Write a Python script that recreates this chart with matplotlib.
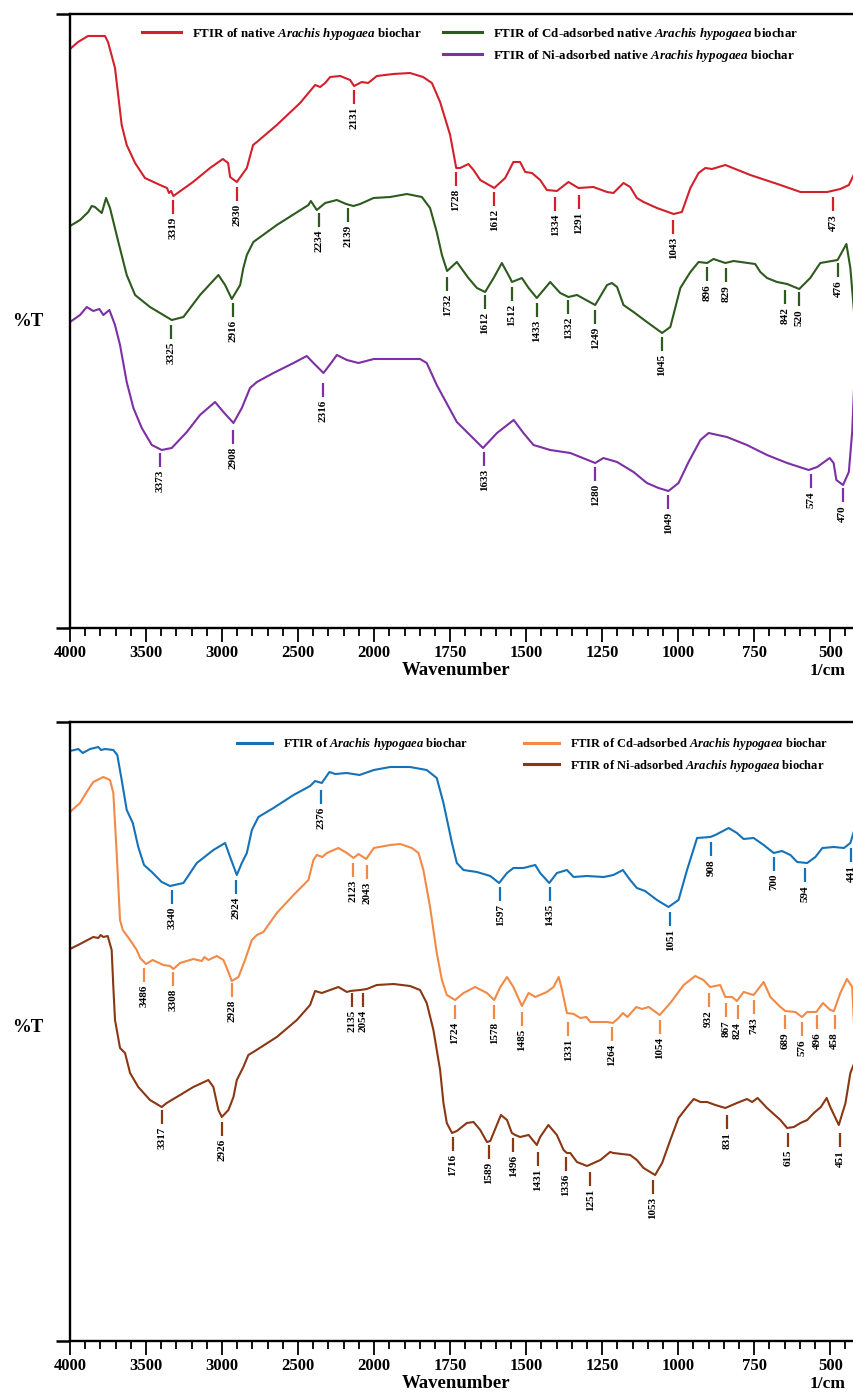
import numpy as np
import matplotlib
matplotlib.use("Agg")
import matplotlib.pyplot as plt
from matplotlib.lines import Line2D
from matplotlib.ticker import FixedLocator

plt.rcParams['font.family'] = ['Liberation Serif', 'DejaVu Serif']
plt.rcParams['mathtext.fontset'] = 'custom'
plt.rcParams['mathtext.rm'] = 'Liberation Serif:bold'
plt.rcParams['mathtext.it'] = 'Liberation Serif:italic:bold'
plt.rcParams['mathtext.bf'] = 'Liberation Serif:bold'

# ---------------- data (wavenumber cm-1, %T in arbitrary units) ----------------
NATIVE = [(4000, 579), (3947, 586), (3882, 592), (3770, 592), (3750, 586), (3704, 560), (3660, 503),
          (3627, 483), (3572, 465), (3507, 450), (3408, 443), (3362, 440), (3349, 435), (3335, 437),
          (3320, 432), (3191, 446), (3079, 460), (2995, 469), (2960, 465), (2947, 451), (2903, 446),
          (2837, 460), (2796, 483), (2771, 486), (2640, 503), (2487, 525), (2388, 543), (2355, 541),
          (2322, 545), (2289, 551), (2223, 552), (2158, 548), (2132, 542), (2081, 546), (2039, 545),
          (1991, 552), (1937, 554), (1882, 555), (1839, 551), (1810, 545), (1783, 526), (1750, 493),
          (1730, 460), (1717, 460), (1690, 464), (1673, 458), (1651, 448), (1605, 440), (1569, 450),
          (1542, 466), (1520, 466), (1503, 456), (1481, 455), (1454, 448), (1432, 438), (1399, 437),
          (1361, 446), (1328, 440), (1279, 441), (1234, 436), (1213, 435), (1180, 445), (1158, 441),
          (1136, 430), (1114, 426), (1070, 420), (1015, 414), (988, 416), (960, 440), (933, 455),
          (911, 460), (889, 459), (845, 463), (763, 453), (664, 443), (598, 436), (510, 436),
          (467, 439), (439, 443), (423, 453)]
CD_NATIVE = [(4000, 402), (3934, 408), (3880, 416), (3857, 422), (3836, 421), (3791, 415), (3763, 430),
             (3737, 420), (3682, 386), (3627, 353), (3572, 333), (3474, 321), (3331, 308), (3254, 311),
             (3145, 333), (3024, 353), (2980, 343), (2936, 329), (2881, 343), (2860, 360), (2837, 373),
             (2794, 386), (2640, 403), (2432, 423), (2416, 427), (2377, 418), (2322, 425), (2245, 428),
             (2184, 424), (2136, 422), (2092, 424), (2004, 430), (1947, 431), (1892, 434), (1843, 431),
             (1816, 420), (1794, 396), (1777, 373), (1760, 357), (1728, 366), (1690, 350), (1662, 340),
             (1635, 336), (1607, 350), (1580, 365), (1553, 350), (1547, 346), (1514, 350), (1492, 340),
             (1465, 330), (1421, 346), (1388, 335), (1361, 331), (1333, 333), (1273, 323), (1234, 343),
             (1218, 345), (1201, 341), (1180, 323), (1147, 316), (1103, 306), (1053, 295), (1026, 301),
             (993, 340), (960, 356), (933, 366), (905, 365), (884, 369), (845, 365), (818, 367),
             (747, 364), (730, 356), (708, 350), (675, 346), (642, 344), (602, 339), (566, 350),
             (533, 365), (476, 368), (447, 384), (434, 360), (421, 313)]
NI_NATIVE = [(4000, 306), (3934, 313), (3890, 321), (3847, 317), (3807, 319), (3781, 313), (3741, 318),
             (3704, 303), (3671, 283), (3627, 246), (3583, 220), (3528, 200), (3462, 183), (3397, 178),
             (3331, 180), (3232, 196), (3145, 213), (3046, 226), (2991, 216), (2925, 205), (2870, 220),
             (2816, 240), (2771, 246), (2662, 255), (2530, 265), (2443, 272), (2399, 265), (2333, 255),
             (2278, 266), (2245, 273), (2179, 268), (2103, 265), (2002, 269), (1849, 269), (1827, 265),
             (1794, 243), (1728, 206), (1695, 196), (1642, 180), (1596, 195), (1541, 208), (1509, 195),
             (1476, 183), (1421, 178), (1355, 175), (1322, 171), (1273, 165), (1246, 170), (1201, 166),
             (1147, 156), (1103, 145), (1065, 140), (1032, 137), (999, 145), (966, 166), (927, 188),
             (900, 195), (840, 191), (774, 183), (708, 173), (642, 165), (571, 158), (543, 161),
             (502, 170), (489, 165), (480, 148), (458, 143), (439, 156), (428, 196), (421, 246)]

RAW = [(4000, 590), (3945, 592), (3916, 588), (3868, 592), (3814, 594), (3796, 591), (3770, 592),
       (3715, 591), (3689, 586), (3660, 561), (3627, 531), (3587, 518), (3551, 494), (3513, 476),
       (3462, 469), (3397, 459), (3342, 455), (3254, 458), (3166, 478), (3057, 491), (2980, 498),
       (2947, 484), (2903, 466), (2870, 478), (2837, 488), (2804, 511), (2761, 524), (2662, 533),
       (2530, 546), (2421, 555), (2388, 560), (2344, 558), (2294, 569), (2256, 567), (2179, 568),
       (2096, 566), (2002, 571), (1947, 574), (1882, 574), (1827, 571), (1794, 563), (1772, 538),
       (1744, 498), (1728, 478), (1706, 471), (1662, 469), (1618, 465), (1589, 458), (1563, 468),
       (1542, 473), (1509, 473), (1470, 476), (1454, 468), (1424, 458), (1399, 468), (1366, 471),
       (1344, 464), (1300, 465), (1245, 464), (1213, 466), (1182, 471), (1158, 461), (1136, 453),
       (1109, 450), (1070, 441), (1032, 434), (999, 441), (971, 471), (938, 503), (895, 504),
       (878, 506), (834, 513), (807, 508), (785, 502), (752, 503), (719, 496), (686, 488),
       (659, 490), (631, 486), (609, 479), (576, 478), (549, 484), (526, 493), (488, 494),
       (455, 493), (434, 498), (421, 511)]
CD = [(4000, 529), (3934, 538), (3890, 549), (3847, 559), (3781, 564), (3737, 561), (3715, 548),
      (3693, 488), (3671, 421), (3653, 411), (3605, 401), (3561, 391), (3539, 383), (3500, 377),
      (3456, 381), (3386, 376), (3342, 375), (3320, 372), (3276, 378), (3189, 382), (3133, 380),
      (3116, 384), (3090, 381), (3035, 385), (2991, 381), (2969, 373), (2936, 360), (2892, 364),
      (2849, 381), (2804, 401), (2771, 406), (2728, 409), (2640, 428), (2530, 446), (2432, 461),
      (2399, 481), (2377, 486), (2340, 484), (2311, 488), (2235, 493), (2179, 488), (2135, 483),
      (2103, 487), (2052, 482), (2002, 493), (1947, 496), (1914, 497), (1876, 493), (1854, 488),
      (1838, 471), (1816, 434), (1794, 388), (1777, 361), (1761, 346), (1734, 341), (1706, 348),
      (1668, 354), (1629, 348), (1605, 341), (1585, 354), (1563, 364), (1542, 354), (1514, 335),
      (1492, 348), (1470, 344), (1432, 349), (1410, 354), (1393, 364), (1382, 351), (1366, 328),
      (1344, 327), (1322, 323), (1302, 324), (1289, 319), (1234, 319), (1215, 318), (1196, 323),
      (1182, 328), (1167, 324), (1138, 334), (1119, 332), (1097, 334), (1061, 326), (1026, 338),
      (982, 356), (944, 365), (917, 361), (895, 354), (862, 356), (845, 344), (823, 344),
      (807, 340), (785, 349), (752, 346), (719, 359), (697, 344), (664, 334), (648, 330),
      (615, 329), (593, 324), (576, 329), (546, 329), (524, 338), (500, 331), (488, 330),
      (467, 348), (445, 362), (428, 354), (421, 311)]
NI = [(4000, 392), (3934, 397), (3847, 404), (3814, 403), (3798, 406), (3781, 404), (3752, 405),
      (3726, 391), (3715, 354), (3704, 321), (3671, 293), (3638, 288), (3605, 268), (3551, 254),
      (3474, 241), (3397, 234), (3364, 238), (3276, 246), (3189, 254), (3090, 261), (3057, 254),
      (3024, 231), (3002, 224), (2958, 231), (2925, 244), (2903, 261), (2860, 274), (2827, 286),
      (2794, 289), (2640, 304), (2508, 321), (2421, 336), (2388, 350), (2344, 348), (2235, 354),
      (2179, 349), (2158, 350), (2092, 351), (2048, 352), (1991, 356), (1936, 357), (1882, 355),
      (1849, 351), (1827, 338), (1805, 311), (1783, 271), (1772, 238), (1761, 218), (1744, 208),
      (1728, 210), (1695, 218), (1673, 219), (1651, 211), (1629, 199), (1618, 200), (1583, 226),
      (1563, 221), (1547, 208), (1536, 206), (1520, 204), (1492, 206), (1465, 196), (1454, 204),
      (1427, 216), (1399, 206), (1377, 191), (1366, 188), (1355, 188), (1333, 179), (1300, 175),
      (1256, 181), (1224, 189), (1213, 188), (1158, 186), (1136, 181), (1114, 173), (1076, 166),
      (1053, 178), (1026, 201), (999, 223), (971, 234), (949, 242), (927, 239), (905, 239),
      (878, 236), (845, 233), (807, 238), (774, 242), (757, 239), (739, 243), (708, 233),
      (664, 221), (642, 213), (620, 214), (598, 218), (576, 221), (554, 228), (531, 234),
      (512, 243), (500, 234), (472, 216), (450, 238), (434, 268), (421, 278)]

# peak labels: (label, wavenumber position of marker, marker top value)
NATIVE_PEAKS = [("3319", 3320, 428), ("2930", 2903, 441), ("2131", 2131, 538), ("1728", 1731, 456),
                ("1612", 1605, 436), ("1334", 1404, 431), ("1291", 1326, 433), ("1043", 1016, 408),
                ("473", 491, 431)]
CD_NATIVE_PEAKS = [("3325", 3335, 303), ("2916", 2929, 325), ("2234", 2360, 415), ("2139", 2175, 420),
                   ("1732", 1759, 351), ("1612", 1635, 333), ("1512", 1547, 341), ("1433", 1465, 325),
                   ("1332", 1361, 328), ("1249", 1273, 318), ("1045", 1053, 291), ("896", 905, 361),
                   ("829", 843, 360), ("842", 650, 338), ("520", 602, 336), ("476", 474, 365)]
NI_NATIVE_PEAKS = [("3373", 3408, 175), ("2908", 2925, 198), ("2316", 2337, 245), ("1633", 1638, 176),
                   ("1280", 1273, 161), ("1049", 1032, 133), ("574", 563, 154), ("470", 459, 140)]
RAW_PEAKS = [("3340", 3331, 451), ("2924", 2908, 461), ("2376", 2348, 551), ("1597", 1585, 454),
             ("1435", 1423, 454), ("1051", 1026, 429), ("908", 891, 499), ("700", 684, 484),
             ("594", 584, 473), ("441", 432, 493)]
CD_PEAKS = [("3486", 3511, 373), ("3308", 3320, 369), ("2928", 2932, 358), ("2123", 2142, 478),
            ("2043", 2048, 476), ("1724", 1734, 336), ("1578", 1605, 336), ("1485", 1514, 329),
            ("1331", 1361, 319), ("1264", 1218, 314), ("1054", 1061, 321), ("932", 900, 348),
            ("867", 842, 338), ("824", 805, 336), ("743", 750, 341), ("689", 650, 326),
            ("576", 593, 319), ("496", 544, 326), ("458", 486, 326)]
NI_PEAKS = [("3317", 3393, 231), ("2926", 3002, 219), ("2135", 2146, 348), ("2054", 2070, 348),
            ("1716", 1742, 204), ("1589", 1622, 196), ("1496", 1542, 203), ("1431", 1461, 189),
            ("1336", 1369, 184), ("1251", 1289, 169), ("1053", 1083, 161), ("831", 840, 226),
            ("615", 640, 208), ("451", 467, 208)]

TOP_LABELS = [r"FTIR of native $\mathit{Arachis\ hypogaea}$ biochar",
              r"FTIR of Cd-adsorbed native $\mathit{Arachis\ hypogaea}$ biochar",
              r"FTIR of Ni-adsorbed native $\mathit{Arachis\ hypogaea}$ biochar"]
BOT_LABELS = [r"FTIR of $\mathit{Arachis\ hypogaea}$ biochar",
              r"FTIR of Cd-adsorbed $\mathit{Arachis\ hypogaea}$ biochar",
              r"FTIR of Ni-adsorbed $\mathit{Arachis\ hypogaea}$ biochar"]
TOP_COLORS = ["#d2212a", "#2d5a1d", "#7d2fa5"]
BOT_COLORS = ["#1572b8", "#f28a46", "#8a3713"]

MAJOR = [4000, 3500, 3000, 2500, 2000, 1750, 1500, 1250, 1000, 750, 500]
MINOR = [w for w in range(3900, 2000, -100) if w not in MAJOR] + \
        [w for w in range(1950, 400, -50) if w not in MAJOR]


def fwd(x):
    x = np.asarray(x, dtype=float)
    return np.where(x > 2000, 2000 + (x - 2000) / 2.0, x)


def inv(t):
    t = np.asarray(t, dtype=float)
    return np.where(t > 2000, 2000 + (t - 2000) * 2.0, t)


W, H = 854, 1395
fig = plt.figure(figsize=(W / 100, H / 100), dpi=100)
ax1 = fig.add_axes([70 / W, 1 - 628 / H, 784 / W, 614 / H])
ax2 = fig.add_axes([70 / W, 1 - 1341 / H, 784 / W, 619 / H])


def setup(ax, ytop):
    ax.set_xscale('function', functions=(fwd, inv))
    ax.set_xlim(4000, 422)
    ax.set_ylim(0, ytop)
    ax.xaxis.set_major_locator(FixedLocator(MAJOR))
    ax.xaxis.set_minor_locator(FixedLocator(MINOR))
    ax.set_xticklabels([str(m) for m in MAJOR], fontweight='bold', fontsize=12)
    ax.tick_params(axis='x', which='major', direction='out', length=10, width=1.3, pad=2)
    ax.tick_params(axis='x', which='minor', direction='out', length=6, width=1.3)
    ax.set_yticks([0, ytop])
    ax.set_yticklabels([])
    ax.tick_params(axis='y', direction='out', length=10, width=1.8)
    ax.spines['right'].set_visible(False)
    for s in ('top', 'left', 'bottom'):
        ax.spines[s].set_linewidth(1.7)
    hpx = ytop
    ax.text((456 - 70) / 784, -43 / hpx, "Wavenumber", transform=ax.transAxes,
            ha='center', va='center', fontsize=13.5, fontweight='bold')
    ax.text((828 - 70) / 784, -43 / hpx, "1/cm", transform=ax.transAxes,
            ha='center', va='center', fontsize=12.5, fontweight='bold')


def draw(ax, data, peaks, color, label):
    w, v = zip(*data)
    line, = ax.plot(w, v, color=color, lw=1.5, solid_joinstyle='round', label=label)
    for lab, x, y in peaks:
        ax.plot([x, x], [y, y - 14], color=color, lw=1.6, solid_capstyle='butt')
        ax.text(x, y - 17, lab, rotation=90, ha='center', va='top',
                fontsize=8, fontweight='bold', color='black')
    return line


setup(ax1, 614)
setup(ax2, 619)

h1 = [draw(ax1, d, p, c, l) for d, p, c, l in
      zip([NATIVE, CD_NATIVE, NI_NATIVE], [NATIVE_PEAKS, CD_NATIVE_PEAKS, NI_NATIVE_PEAKS],
          TOP_COLORS, TOP_LABELS)]
h2 = [draw(ax2, d, p, c, l) for d, p, c, l in
      zip([RAW, CD, NI], [RAW_PEAKS, CD_PEAKS, NI_PEAKS], BOT_COLORS, BOT_LABELS)]


def legend(ax, labels, colors, anchor, hl, cs, size):
    handles = [Line2D([], [], color=colors[0], lw=2.2), Line2D([], [], color='none'),
               Line2D([], [], color=colors[1], lw=2.2), Line2D([], [], color=colors[2], lw=2.2)]
    labs = [labels[0], ' ', labels[1], labels[2]]
    ax.legend(handles, labs, ncol=2, loc='upper left', bbox_to_anchor=anchor, frameon=False,
              borderpad=0, borderaxespad=0, handlelength=hl, handletextpad=0.85,
              columnspacing=cs, labelspacing=0.45,
              prop={'family': 'Liberation Serif', 'weight': 'bold', 'size': size})


legend(ax1, TOP_LABELS, TOP_COLORS, ((142 - 70) / 784, 1 - 12 / 614), 3.0, 1.6, 9.4)
legend(ax2, BOT_LABELS, BOT_COLORS, ((237 - 70) / 784, 1 - 14 / 619), 2.8, 4.5, 9)

fig.text(28 / W, 1 - 322 / H, "%T", ha='center', va='center', fontsize=13.5, fontweight='bold')
fig.text(28 / W, 1 - 1027 / H, "%T", ha='center', va='center', fontsize=13.5, fontweight='bold')

fig.savefig("out.png", dpi=100)
